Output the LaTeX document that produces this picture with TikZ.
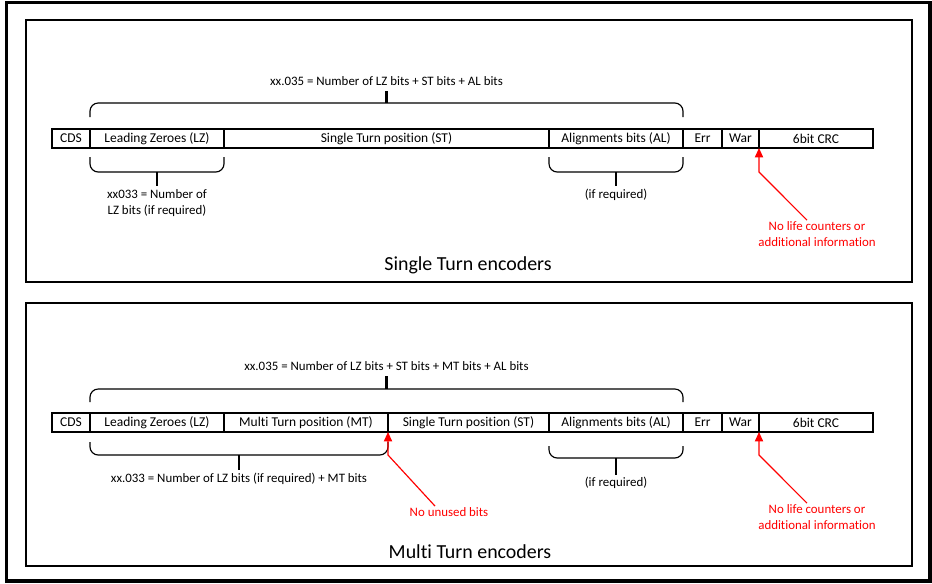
\documentclass[tikz,border=0pt]{standalone}
\usepackage{fontspec}
\setmainfont{Carlito}[Ligatures=NoCommon]
\usetikzlibrary{positioning,calc,arrows.meta}

\tikzset{
    bitcell/.style={draw, line width=1.3pt, minimum width=#1*0.03cm, minimum height=19*0.03cm,
        inner sep=0pt, outer sep=0pt, font=\fontsize{11.5}{13}\selectfont},
    brace/.style={line width=1pt, rounded corners=7pt},
    stub/.style={line width=1.8pt},
    note/.style={font=\fontsize{11}{13.5}\selectfont, align=center, inner sep=1pt},
    rednote/.style={note, text=red},
    redarrow/.style={red, line width=1pt, -{Triangle[width=7pt,length=8pt]}},
    panel/.style={draw, line width=1.2pt},
    title/.style={font=\fontsize{17}{20}\selectfont, inner sep=1pt},
}

\begin{document}
\begin{tikzpicture}[x=0.03cm, y=-0.03cm]
    \useasboundingbox (0,0) rectangle (932,583);

    % Frames
    \draw[line width=3.4pt] (6.5,2.5) rectangle (929.5,581);
    \draw[panel] (26,20) rectangle (912,282);
    \draw[panel] (26,303) rectangle (912,566);

    % Single turn frame
    \node[bitcell=38, anchor=west] (cds1) at (52,138.5) {CDS};
    \node[bitcell=134, right=0pt of cds1] (lz1) {Leading Zeroes (LZ)};
    \node[bitcell=325, right=0pt of lz1] (st1) {Single Turn position (ST)};
    \node[bitcell=134, right=0pt of st1] (al1) {Alignments bits (AL)};
    \node[bitcell=39, right=0pt of al1] (err1) {Err};
    \node[bitcell=37, right=0pt of err1] (war1) {War};
    \node[bitcell=114, right=0pt of war1] (crc1) {6bit CRC};

    % Braces (single turn)
    \draw[brace] ($(lz1.north west)+(0,-12)$) |- ($(al1.north east)+(0,-26)$) -- ($(al1.north east)+(0,-12)$);
    \coordinate (tip1) at ($(lz1.north west)!0.5!(al1.north east)+(0,-26)$);
    \draw[stub] (tip1) -- ++(0,-12) node[note, above=3pt] (sum1) {xx.035 = Number of LZ bits + ST bits + AL bits};

    \draw[brace] ($(lz1.south west)+(0,9)$) |- ($(lz1.south east)+(0,24)$) -- ($(lz1.south east)+(0,9)$);
    \coordinate (tip2) at ($(lz1.south west)!0.5!(lz1.south east)+(0,24)$);
    \draw[stub] (tip2) -- ++(0,14) node[note, below=1pt] (lzinfo1) {xx033 = Number of\\LZ bits (if required)};

    \draw[brace] ($(al1.south west)+(0,9)$) |- ($(al1.south east)+(0,24)$) -- ($(al1.south east)+(0,9)$);
    \coordinate (tip3) at ($(al1.south west)!0.5!(al1.south east)+(0,24)$);
    \draw[stub] (tip3) -- ++(0,14) node[note, below=1pt] (alinfo1) {(if required)};

    % Remark (single turn)
    \node[rednote] (nolife1) at (817,234) {No life counters or\\additional information};
    \draw[redarrow] ($(nolife1.north)+(-10,0)$) -- ($(crc1.south west)+(0,24)$) -- (crc1.south west);

    \node[title] (title1) at (468,265) {Single Turn encoders};

    % Multi turn frame
    \node[bitcell=38, anchor=west] (cds2) at (52,422.5) {CDS};
    \node[bitcell=134, right=0pt of cds2] (lz2) {Leading Zeroes (LZ)};
    \node[bitcell=164, right=0pt of lz2] (mt2) {Multi Turn position (MT)};
    \node[bitcell=161, right=0pt of mt2] (st2) {Single Turn position (ST)};
    \node[bitcell=134, right=0pt of st2] (al2) {Alignments bits (AL)};
    \node[bitcell=39, right=0pt of al2] (err2) {Err};
    \node[bitcell=37, right=0pt of err2] (war2) {War};
    \node[bitcell=114, right=0pt of war2] (crc2) {6bit CRC};

    % Braces (multi turn)
    \draw[brace] ($(lz2.north west)+(0,-11)$) |- ($(al2.north east)+(0,-24)$) -- ($(al2.north east)+(0,-11)$);
    \coordinate (tip4) at ($(lz2.north west)!0.5!(al2.north east)+(0,-24)$);
    \draw[stub] (tip4) -- ++(0,-13) node[note, above=3pt] (sum2) {xx.035 = Number of LZ bits + ST bits + MT bits + AL bits};

    \draw[brace] ($(lz2.south west)+(0,10)$) |- ($(mt2.south east)+(0,23)$) -- ($(mt2.south east)+(0,10)$);
    \coordinate (tip5) at ($(lz2.south west)!0.5!(mt2.south east)+(0,23)$);
    \draw[stub] (tip5) -- ++(0,15) node[note, below=1pt] (lzinfo2) {xx.033 = Number of LZ bits (if required) + MT bits};

    \draw[brace] ($(al2.south west)+(0,14)$) |- ($(al2.south east)+(0,26)$) -- ($(al2.south east)+(0,14)$);
    \coordinate (tip6) at ($(al2.south west)!0.5!(al2.south east)+(0,26)$);
    \draw[stub] (tip6) -- ++(0,17) node[note, below=0pt] (alinfo2) {(if required)};

    % Remarks (multi turn)
    \node[rednote] (nounused) at (449,512) {No unused bits};
    \draw[redarrow] ($(nounused.north)+(-14,0)$) -- ($(st2.south west)+(0,23)$) -- (st2.south west);

    \node[rednote] (nolife2) at (817,517) {No life counters or\\additional information};
    \draw[redarrow] ($(nolife2.north)+(-10,0)$) -- ($(crc2.south west)+(0,23)$) -- (crc2.south west);

    \node[title] (title2) at (470,552) {Multi Turn encoders};
\end{tikzpicture}
\end{document}
